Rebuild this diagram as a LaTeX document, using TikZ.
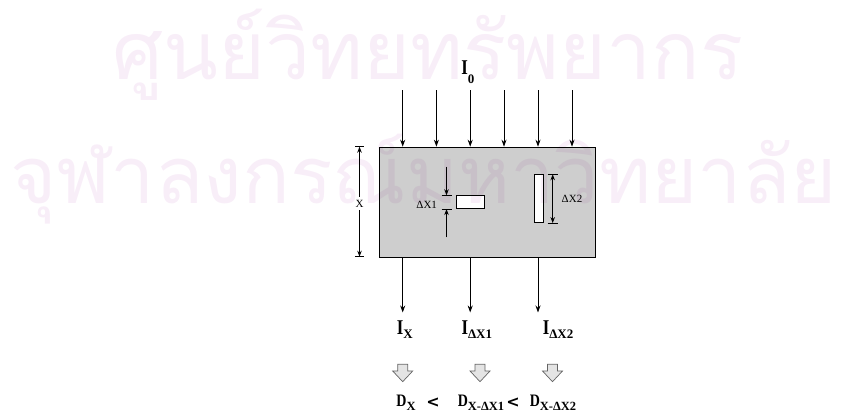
\documentclass[tikz,border=0pt]{standalone}
\usepackage{fontspec}
\setmainfont{Liberation Serif}
\newfontfamily\labf[FakeStretch=0.8]{Liberation Serif}
\newfontfamily\symf{DejaVu Sans}
\newfontfamily\thaiwm[Script=Thai]{Loma}
\usetikzlibrary{arrows.meta}
\definecolor{wm}{RGB}{248,238,248}
\definecolor{boxgray}{RGB}{206,206,206}
\definecolor{blockfill}{RGB}{228,228,228}
\definecolor{blockline}{RGB}{100,100,100}
\newcommand\subI[2]{\raisebox{-#1pt}{\rmfamily\bfseries\fontsize{13}{13}\selectfont #2}}
\newcommand\subD[2]{\raisebox{-#1pt}{\rmfamily\bfseries\fontsize{12.5}{12.5}\selectfont #2}}
\begin{document}
\begin{tikzpicture}[x=1pt,y=-1pt,
  ray/.style={line width=0.9pt,-{Stealth[length=7pt,width=5pt]}},
  dimarrow/.style={line width=0.9pt,-{Stealth[length=6pt,width=4.5pt]}},
  dimboth/.style={line width=0.9pt,{Stealth[length=6pt,width=4.5pt]}-{Stealth[length=6pt,width=4.5pt]}},
  ticklen/.style={line width=0.8pt},
  lab/.style={inner sep=0pt,anchor=base west,font=\labf\bfseries\fontsize{21}{21}\selectfont},
  dlab/.style={inner sep=0pt,anchor=base west,font=\labf\bfseries\fontsize{17.5}{17.5}\selectfont},
  ltlab/.style={inner sep=0pt,font=\symf\bfseries\fontsize{16}{16}\selectfont},
  smalllab/.style={inner sep=0pt,font=\fontsize{11}{11}\selectfont},
  blockarrow/.style={fill=blockfill,draw=blockline,line width=0.7pt},
  hole/.style={draw=black,fill=white,line width=0.8pt,inner sep=0pt,anchor=north west},
  blockdown/.pic={\draw[blockarrow] (-5,0) -- (5,0) -- (5,6.7) -- (10,6.7) -- (0,17.4) -- (-10,6.7) -- (-5,6.7) -- cycle;}]
\useasboundingbox (0,0) rectangle (846,419);

% slab
\node[draw=black,fill=boxgray,line width=0.9pt,inner sep=0pt,anchor=north west,
      minimum width=216pt,minimum height=110pt] (slab) at (379.3,146.7) {};

% holes
\node[hole,minimum width=28pt,minimum height=13pt] (r1) at (456.2,195.3) {};
\node[hole,minimum width=9.2pt,minimum height=48pt] (r2) at (533.6,174.3) {};

% incident rays
\node[lab] (i0) at (461.2,75) {I\subI{8.3}{0}};
\foreach \n/\xx in {1/402.7,2/436.4,3/470.2,4/504,5/538,6/572}{
  \coordinate (t\n) at (\xx,90.5);
  \draw[ray] (t\n) -- (t\n |- slab.north);
}

% transmitted rays
\foreach \n/\xx in {1/402.7,3/470.2,5/538}{
  \coordinate (b\n) at (\xx,312.5);
  \draw[ray] (b\n |- slab.south) -- (b\n);
}

% thickness x
\coordinate (xt) at (359.5,146.7);
\coordinate (xb) at (359.5,256.7);
\node[smalllab,inner sep=3pt] (xl) at (359.5,203.5) {X};
\draw[ticklen] ([xshift=-4.5pt]xt) -- ([xshift=4.5pt]xt);
\draw[ticklen] ([xshift=-4.5pt]xb) -- ([xshift=4.5pt]xb);
\draw[dimarrow] (xl.north) -- (xt);
\draw[dimarrow] (xl.south) -- (xb);

% delta x1
\coordinate (d1x) at (446.5,0);
\coordinate (d1a) at (446.5,166.7);
\coordinate (d1b) at (446.5,237.3);
\draw[ticklen] ([xshift=-5pt]d1x |- r1.north) -- ([xshift=5pt]d1x |- r1.north);
\draw[ticklen] ([xshift=-5pt]d1x |- r1.south) -- ([xshift=5pt]d1x |- r1.south);
\draw[dimarrow] (d1a) -- (d1x |- r1.north);
\draw[dimarrow] (d1b) -- (d1x |- r1.south);
\node[smalllab] (l1) at (426.7,205) {ΔX1};

% delta x2
\coordinate (d2x) at (552.7,0);
\draw[ticklen] ([xshift=-5pt]d2x |- r2.north) -- ([xshift=5pt]d2x |- r2.north);
\draw[ticklen] ([xshift=-5pt]d2x |- r2.south) -- ([xshift=5pt]d2x |- r2.south);
\draw[dimboth] (d2x |- r2.north) -- (d2x |- r2.south);
\node[smalllab] (l2) at (572,198.5) {ΔX2};

% intensities
\node[lab] (ix) at (396.6,335) {I\subI{4}{X}};
\node[lab] (ix1) at (461.3,335) {I\subI{4}{ΔX1}};
\node[lab] (ix2) at (542.6,335) {I\subI{4}{ΔX2}};

% block arrows
\pic at (402.7,364.3) {blockdown};
\pic at (480,364.3) {blockdown};
\pic at (552.5,364.3) {blockdown};

% densities
\node[dlab] (dx) at (396.2,406.7) {D\subD{3.3}{X}};
\node[ltlab] (lt1) at (433,403) {<};
\node[dlab] (dx1) at (457.6,406.7) {D\subD{3.3}{X-ΔX1}};
\node[ltlab] (lt2) at (513,403) {<};
\node[dlab] (dx2) at (529.6,406.7) {D\subD{3.3}{X-ΔX2}};

% watermark
\begin{scope}[blend mode=multiply]
\node[anchor=base west,inner sep=0pt,text=wm] (wm1) at (112,80)
  {\resizebox{631pt}{!}{\thaiwm\fontsize{80}{80}\selectfont ศูนย์วิทยทรัพยากร}};
\node[anchor=base west,inner sep=0pt,text=wm] (wm2) at (10,204)
  {\resizebox{827pt}{!}{\thaiwm\fontsize{80}{80}\selectfont จุฬาลงกรณ์มหาวิทยาลัย}};
\end{scope}
\end{tikzpicture}
\end{document}
